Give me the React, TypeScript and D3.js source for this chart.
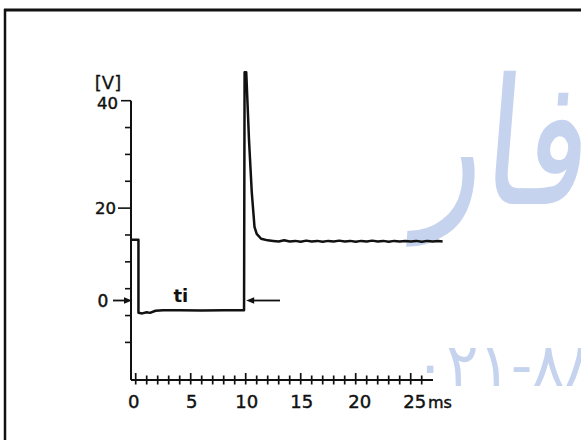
import React from "react";
import * as d3 from "d3";

// Trace (oscilloscope recording): time in ms, voltage in V
const timeMs = [
  -0.42, 0.25, 0.25, 0.6, 1.0, 1.3, 1.8, 2.5, 4, 6, 8, 9.85,
  9.9, 10.05, 10.3, 10.55, 10.8, 11.0, 11.4, 12.0,
  12.5, 13, 13.5, 14, 14.5, 15, 15.5, 16, 16.5, 17, 17.5, 18, 18.5, 19,
  19.5, 20, 20.5, 21, 21.5, 22, 22.5, 23, 23.5, 24, 24.5, 25, 25.5, 26,
  26.5, 27, 27.5, 27.9,
];
const volts = [
  14.1, 14.1, 0.5, 0.4, 0.6, 0.5, 0.9, 1.0, 1.0, 0.95, 1.0, 1.0,
  45.3, 45.3, 32.7, 23.0, 16.5, 15.2, 14.3, 14.0,
  13.9, 13.8, 14.0, 13.8, 13.9, 13.75, 13.95, 13.8, 13.9, 13.75, 13.9, 13.8, 13.95, 13.8,
  13.9, 13.75, 13.9, 13.8, 13.95, 13.8, 13.9, 13.75, 13.9, 13.8, 13.9, 13.8, 13.9, 13.75,
  13.9, 13.8, 13.9, 13.8,
];

const xTickLabels = [0, 5, 10, 15, 20, 25];
const xMinorTicks = d3.range(0, 27, 1);
const yTicks = [-5, 0, 5, 10, 15, 20, 25, 30, 35, 40];
const yTickLabels = [20, 40];
const refLevel = 2.8; // "0" reference marker of the trace
const tiArrowTime = 10.0;
const tiLabelTime = 4.1;

export default function App() {
  const x = d3.scaleLinear().domain([0, 25]).range([135.7, 410.7]);
  const y = d3.scaleLinear().domain([-12, 40]).range([380, 100.7]);
  const axisX = 131;
  const axisY = y(-12);
  const axisEndX = 433;

  const line = d3
    .line<number>()
    .x((_, i) => x(timeMs[i]))
    .y((d) => y(d))
    .curve(d3.curveLinear);

  const font = "'DejaVu Sans', 'Liberation Sans', sans-serif";
  const ink = "#111";
  const textStyle = { stroke: ink, strokeWidth: 0.45 };
  const yr = y(refLevel);

  return (
    <svg
      width={581}
      height={440}
      style={{ position: "absolute", left: 0, top: 0, background: "#fff" }}
    >
      {/* frame */}
      <line x1={4} x2={581} y1={10} y2={10} stroke={ink} strokeWidth={3} />
      <line x1={5} x2={5} y1={9} y2={440} stroke={ink} strokeWidth={2.5} />

      {/* watermark */}
      <text
        x={0}
        y={0}
        textAnchor="end"
        fontFamily="'DejaVu Sans', sans-serif"
        fontSize={135}
        fill="#c6d3ee"
        transform="translate(586,204) scale(1,1.3) skewX(-6)"
      >
        فار
      </text>
      <text
        x={414}
        y={386}
        fontFamily="'DejaVu Sans', sans-serif"
        fontSize={60}
        fill="#c6d3ee"
      >
        ۰۲۱-۸۸
      </text>

      {/* y axis */}
      <line x1={axisX} x2={axisX} y1={y(40)} y2={axisY} stroke={ink} strokeWidth={2} />
      {yTicks.map((v) => {
        const len = v === 40 ? 10 : v === 20 ? 13 : 6;
        return (
          <line
            key={"yt" + v}
            x1={axisX - len}
            x2={axisX}
            y1={y(v)}
            y2={y(v)}
            stroke={ink}
            strokeWidth={1.6}
          />
        );
      })}
      {yTickLabels.map((v) => (
        <text
          key={"yl" + v}
          x={v === 40 ? 118 : 116}
          y={y(v) + (v === 40 ? 2 : 0)}
          dy="0.36em"
          textAnchor="end"
          fontFamily={font}
          fontSize={16.5}
          fill={ink}
          style={textStyle}
        >
          {v}
        </text>
      ))}
      <text
        x={108}
        y={89}
        textAnchor="middle"
        fontFamily={font}
        fontSize={18}
        fill={ink}
        style={{ stroke: ink, strokeWidth: 0.3 }}
      >
        [V]
      </text>

      {/* zero reference marker (left) */}
      <line x1={113} x2={126} y1={yr} y2={yr} stroke={ink} strokeWidth={1.8} />
      <path
        d={`M${axisX + 1},${yr} L${axisX - 7},${yr - 3.2} L${axisX - 7},${yr + 3.2} Z`}
        fill={ink}
      />
      <text
        x={103}
        y={yr}
        dy="0.36em"
        textAnchor="middle"
        fontFamily={font}
        fontSize={17}
        fill={ink}
        style={textStyle}
      >
        0
      </text>

      {/* x axis */}
      <line x1={axisX} x2={axisEndX} y1={axisY} y2={axisY} stroke={ink} strokeWidth={2} />
      {xMinorTicks.map((t) => {
        const major = t % 5 === 0;
        return (
          <line
            key={"xt" + t}
            x1={x(t)}
            x2={x(t)}
            y1={axisY - (major ? 7 : 4.5)}
            y2={axisY + 4.5}
            stroke={ink}
            strokeWidth={1.7}
          />
        );
      })}
      {xTickLabels.map((t) => (
        <text
          key={"xl" + t}
          x={x(t) + (t === 0 ? -2 : t >= 20 ? 4 : 1)}
          y={408}
          textAnchor="middle"
          fontFamily={font}
          fontSize={18}
          fill={ink}
          style={textStyle}
        >
          {t}
        </text>
      ))}
      <text
        x={428}
        y={408}
        fontFamily={font}
        fontSize={16}
        fill={ink}
        style={textStyle}
      >
        ms
      </text>

      {/* trace */}
      <path
        d={line(volts) || ""}
        fill="none"
        stroke={ink}
        strokeWidth={2.5}
        strokeLinejoin="round"
      />

      {/* ti marker */}
      <text
        x={x(tiLabelTime)}
        y={302}
        textAnchor="middle"
        fontFamily={font}
        fontWeight="bold"
        fontSize={18}
        fill={ink}
      >
        ti
      </text>
      <line x1={x(tiArrowTime) + 7} x2={280} y1={yr} y2={yr} stroke={ink} strokeWidth={1.8} />
      <path
        d={`M${x(tiArrowTime) + 0.5},${yr} L${x(tiArrowTime) + 8.5},${yr - 3.2} L${x(tiArrowTime) + 8.5},${yr + 3.2} Z`}
        fill={ink}
      />
    </svg>
  );
}
